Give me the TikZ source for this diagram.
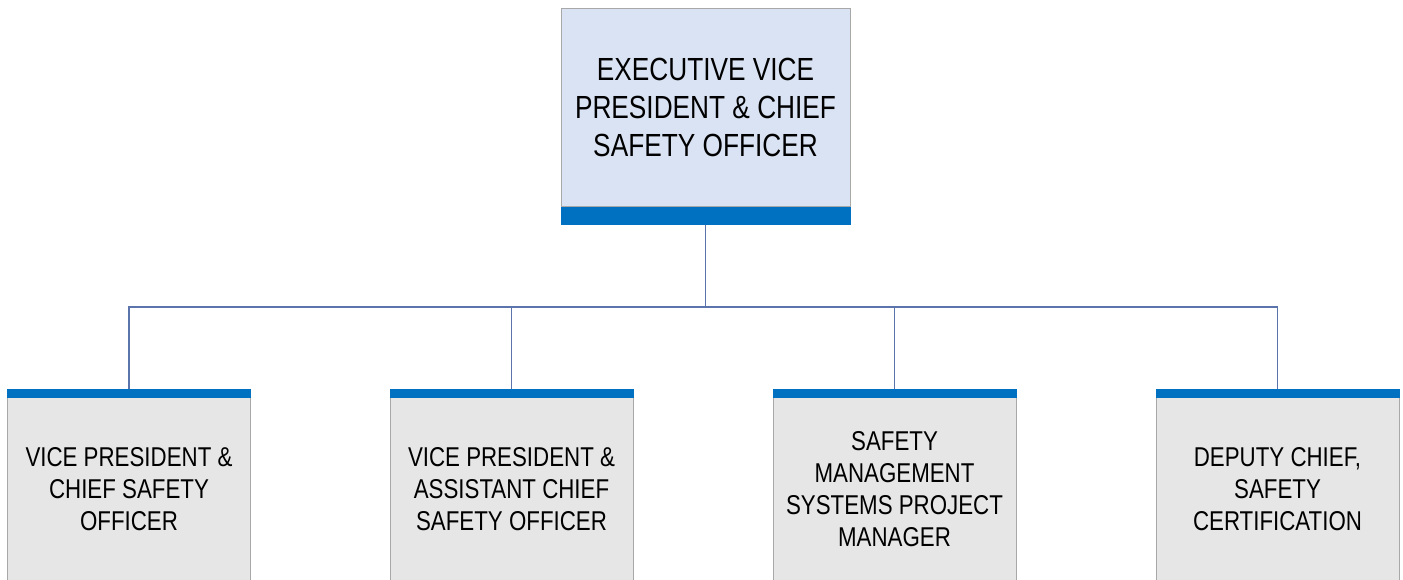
\documentclass[tikz,border=0pt]{standalone}
\usepackage{fontspec}
\setmainfont[FakeStretch=0.82]{Liberation Sans}
\usepackage{tikz}
\usetikzlibrary{positioning}
\usepackage{xcolor}
\definecolor{topfill}{HTML}{DAE3F3}
\definecolor{boxfill}{HTML}{E6E6E6}
\definecolor{barblue}{HTML}{0070C0}
\definecolor{linkblue}{HTML}{5B74AC}
\definecolor{edgegray}{HTML}{A8A8A8}

\tikzset{
  topbox/.style={draw=edgegray, line width=0.5pt, fill=topfill, align=center,
    minimum width=144.5pt, minimum height=99pt, inner sep=0pt,
    font=\fontsize{16}{19}\selectfont},
  subbox/.style={draw=edgegray, line width=0.5pt, fill=boxfill, align=center,
    minimum width=121.5pt, minimum height=100.5pt, inner sep=0pt,
    font=\fontsize{13.6}{16}\selectfont},
  link/.style={draw=linkblue, line width=0.6pt}
}

\begin{document}
\begin{tikzpicture}[x=0.5pt,y=-0.5pt]
            \useasboundingbox (0,0) rectangle (1403,579);
            \clip (0,0) rectangle (1403,579);

            % Top box
            \node[topbox] (evp) at (705.5,107) {EXECUTIVE VICE\\PRESIDENT \& CHIEF\\SAFETY OFFICER};
            \coordinate (evpbar) at ([yshift=-9pt]evp.south);
            \fill[barblue] (evp.south west) rectangle ([yshift=-9pt]evp.south east);

            % Second row
            \node[subbox] (vpcso) at (129,489.5) {VICE PRESIDENT \&\\CHIEF SAFETY\\OFFICER};
            \node[subbox] (vpacso) at (511.5,489.5) {VICE PRESIDENT \&\\ASSISTANT CHIEF\\SAFETY OFFICER};
            \node[subbox] (smspm) at (894.5,489.5) {SAFETY\\MANAGEMENT\\SYSTEMS PROJECT\\MANAGER};
            \node[subbox] (dcsc) at (1277.5,489.5) {DEPUTY CHIEF,\\SAFETY\\CERTIFICATION};
            \foreach \n in {vpcso,vpacso,smspm,dcsc}
              \fill[barblue] (\n.north west) rectangle ([yshift=-4.5pt]\n.north east);

            % Connectors
            \coordinate (bus) at (705.5,307);
            \draw[link] (evpbar) -- (bus);
            \foreach \n in {vpcso,vpacso,smspm,dcsc}
              \draw[link] (\n.north) |- (bus);
        \end{tikzpicture}
\end{document}
